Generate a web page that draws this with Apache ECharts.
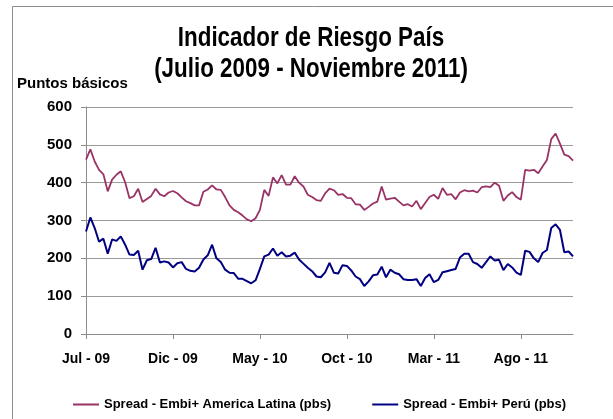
<!DOCTYPE html>
<html>
<head>
  <meta charset="UTF-8">
  <title>Indicador de Riesgo País</title>
  <style>
    html, body { margin: 0; padding: 0; background: #fff; }
    #chart { width: 613px; height: 419px; }
  </style>
  <script src="https://cdn.jsdelivr.net/npm/echarts@6/dist/echarts.min.js"></script>
</head>
<body>
<div id="chart"></div>
<script type="text/javascript">
  // meses desde julio 2009, una lectura cada ~semana (0.25 mes)
  const paso = 0.25;
  const etiquetasMes = ['Jul - 09', 'Dic - 09', 'May - 10', 'Oct - 10', 'Mar - 11', 'Ago - 11'];
  const marcasMes = [0, 5, 10, 15, 20, 25];
  const titulo = ['Indicador de Riesgo País', '(Julio 2009 - Noviembre 2011)'];

  // Spread - Embi+ America Latina (pbs)
  const latam = [
    461, 488, 456, 434, 422, 377, 408, 421, 430, 401, 359, 364, 384, 349, 357, 365,
    384, 369, 364, 374, 378, 372, 361, 351, 346, 340, 340, 376, 382, 393, 382, 381,
    362, 340, 328, 322, 313, 303, 298, 306, 328, 381, 365, 414, 398, 420, 395, 395,
    417, 400, 390, 368, 362, 354, 352, 372, 384, 380, 368, 370, 360, 359, 343, 342,
    328, 336, 345, 350, 390, 355, 358, 360, 350, 340, 343, 337, 352, 330, 346, 362,
    368, 357, 386, 368, 370, 356, 374, 380, 377, 379, 374, 388, 390, 388, 400, 392,
    352, 366, 375, 362, 355, 434, 432, 434, 425, 443, 460, 515, 530, 503, 474, 470,
    458
  ];

  // Spread - Embi+ Perú (pbs)
  const peru = [
    271, 308, 280, 244, 252, 212, 250, 246, 258, 236, 210, 209, 220, 170, 195, 198,
    228, 189, 192, 189, 176, 187, 190, 172, 167, 165, 175, 197, 208, 236, 200, 190,
    170, 162, 161, 146, 146, 140, 134, 142, 172, 205, 210, 226, 207, 216, 205, 207,
    215, 197, 186, 175, 166, 152, 150, 163, 188, 162, 160, 182, 180, 168, 152, 145,
    127, 139, 155, 157, 178, 150, 170, 162, 158, 145, 143, 143, 145, 127, 148, 158,
    137, 143, 163, 166, 169, 172, 202, 212, 212, 190, 185, 175, 190, 205, 194, 196,
    169, 185, 176, 162, 156, 220, 217, 200, 190, 214, 222, 280, 290, 275, 216, 218,
    205
  ];

  const colors = ['#993366', '#000080'];
  const fuente = '"Liberation Sans", Arial, sans-serif';

  const chart = echarts.init(document.getElementById('chart'));

  function pares(valores) {
    return valores.map(function (v, i) { return [i * paso, v]; });
  }

  // titulo estrecho (Arial Narrow no esta): texto escalado en horizontal
  function lineaTitulo(texto, base) {
    return {
      type: 'text',
      x: 311,
      y: base,
      scaleX: 0.8,
      silent: true,
      style: {
        text: texto,
        x: 0,
        y: 0,
        textAlign: 'center',
        textVerticalAlign: 'bottom',
        fontFamily: fuente,
        fontWeight: 'bold',
        fontSize: 28,
        fill: '#000'
      }
    };
  }

  const option = {
    color: colors,
    animation: false,
    graphic: [
      {
        type: 'rect',
        shape: { x: 12.5, y: 6.5, width: 700, height: 500 },
        style: { fill: 'none', stroke: '#8c8c8c', lineWidth: 1 },
        silent: true
      },
      lineaTitulo(titulo[0], 52),
      lineaTitulo(titulo[1], 83),
      {
        type: 'text',
        left: 17,
        top: 76,
        style: {
          text: 'Puntos básicos',
          fontFamily: fuente,
          fontWeight: 'bold',
          fontSize: 15,
          fill: '#000'
        }
      }
    ],
    legend: {
      left: 68,
      top: 393,
      itemGap: 41,
      itemWidth: 26,
      itemHeight: 2,
      icon: 'rect',
      textStyle: {
        fontFamily: fuente,
        fontWeight: 'bold',
        fontSize: 13,
        color: '#000'
      },
      data: ['Spread - Embi+ America Latina (pbs)', 'Spread - Embi+ Perú (pbs)']
    },
    grid: {
      left: 86,
      right: 40,
      top: 107,
      bottom: 85
    },
    xAxis: {
      type: 'value',
      min: 0,
      max: 28,
      interval: 5,
      axisLine: { lineStyle: { color: '#8c8c8c' } },
      axisTick: {
        length: 5,
        lineStyle: { color: '#8c8c8c' },
        customValues: marcasMes
      },
      splitLine: { show: false },
      axisLabel: {
        margin: 18,
        customValues: marcasMes,
        fontFamily: fuente,
        fontWeight: 'bold',
        fontSize: 14,
        color: '#000',
        formatter: function (v) {
          return etiquetasMes[Math.round(v / 5)] || '';
        }
      }
    },
    yAxis: {
      type: 'value',
      min: 0,
      max: 600,
      interval: 100,
      axisLine: { show: true, lineStyle: { color: '#8c8c8c' } },
      axisTick: { show: true, length: 5, lineStyle: { color: '#8c8c8c' } },
      splitLine: { lineStyle: { color: '#9a9a9a', width: 1 } },
      axisLabel: {
        margin: 14,
        fontFamily: fuente,
        fontWeight: 'bold',
        fontSize: 15,
        color: '#000'
      }
    },
    series: [
      {
        name: 'Spread - Embi+ America Latina (pbs)',
        type: 'line',
        showSymbol: false,
        symbol: 'none',
        lineStyle: { width: 1.8, color: colors[0] },
        data: pares(latam)
      },
      {
        name: 'Spread - Embi+ Perú (pbs)',
        type: 'line',
        showSymbol: false,
        symbol: 'none',
        lineStyle: { width: 2, color: colors[1] },
        data: pares(peru)
      }
    ]
  };

  chart.setOption(option);
</script>
</body>
</html>
